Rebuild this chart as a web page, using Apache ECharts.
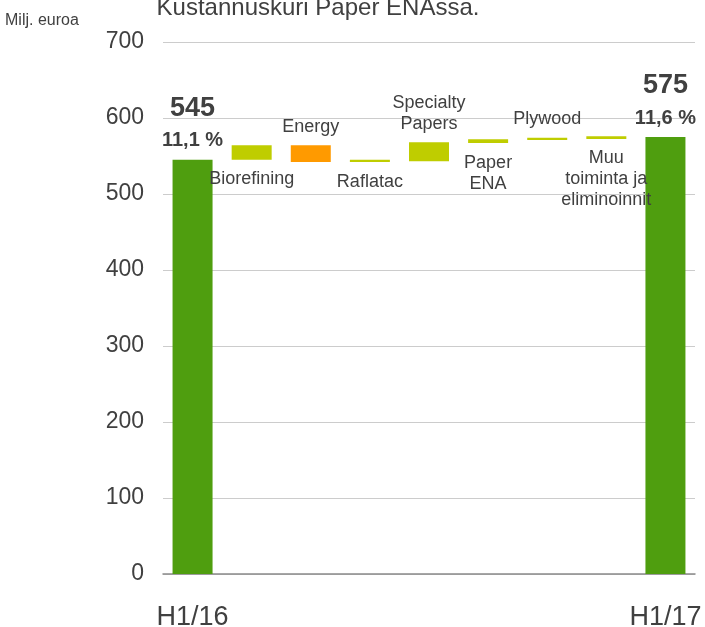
<!DOCTYPE html>
<html>
<head>
<meta charset="utf-8">
<script src="https://cdn.jsdelivr.net/npm/echarts@6/dist/echarts.min.js"></script>
<style>
  html, body { margin: 0; padding: 0; background: #fff; }
  #chart { width: 705px; height: 627px; }
</style>
</head>
<body>
<div id="chart"></div>
<script>
const categories = ['H1/16', 'Biorefining', 'Energy', 'Raflatac', 'Specialty\nPapers', 'Paper\nENA', 'Plywood', 'Muu\ntoiminta ja\neliminoinnit', 'H1/17'];
// where each bar starts and ends (milj. euroa)
const startValues = [0, 545, 564, 542, 543, 567, 571, 572.5, 0];
const endValues = [545, 564, 542, 545, 568, 572, 574, 576, 575];
const kinds = ['total', 'up', 'down', 'up', 'up', 'up', 'up', 'up', 'total'];
const labelSides = ['top', 'bottom', 'top', 'bottom', 'top', 'bottom', 'top', 'bottom', 'top'];
const totalLabels = ['545', '', '', '', '', '', '', '', '575'];
const shareLabels = ['11,1 %', '', '', '', '', '', '', '', '11,6 %'];
const yTicks = [0, 100, 200, 300, 400, 500, 600, 700];

const colors = { total: '#4f9e0f', up: '#bfcd00', down: '#ff9a00' };
const textColor = '#404040';
const font = 'Liberation Sans, Arial, sans-serif';

const baseData = startValues.map((s, i) => Math.min(s, endValues[i]));
const barData = startValues.map((s, i) => ({
  value: Math.abs(endValues[i] - s),
  itemStyle: { color: colors[kinds[i]] },
  label: kinds[i] === 'total'
    ? {
        position: 'top',
        distance: 3,
        formatter: '{a|' + totalLabels[i] + '}\n{b|' + shareLabels[i] + '}',
        rich: {
          a: { fontSize: 27, fontWeight: 'bold', lineHeight: 32, color: textColor, fontFamily: font },
          b: { fontSize: 20, fontWeight: 'bold', lineHeight: 32, color: textColor, fontFamily: font }
        }
      }
    : {
        position: labelSides[i],
        distance: labelSides[i] === 'top' ? 8 : 9,
        formatter: categories[i],
        fontSize: 18,
        lineHeight: 21,
        color: textColor,
        fontFamily: font
      }
}));

const chart = echarts.init(document.getElementById('chart'));

chart.setOption({
  animation: false,
  textStyle: { fontFamily: font },
  title: [
    {
      text: 'Kustannuskuri Paper ENAssa.',
      left: 313, top: -9, textAlign: 'center',
      textStyle: { fontSize: 24, fontWeight: 'normal', color: textColor, lineHeight: 24, fontFamily: font }
    },
    {
      text: 'Milj. euroa',
      left: 0, top: 8,
      textStyle: { fontSize: 16, fontWeight: 'normal', color: textColor, fontFamily: font }
    }
  ],
  grid: { left: 163, right: 10, top: 42, bottom: 53, outerBoundsMode: 'none' },
  xAxis: {
    type: 'category',
    data: categories,
    axisLine: { lineStyle: { color: '#8a8a8a', width: 1.5 } },
    axisTick: { show: false },
    axisLabel: {
      interval: 0,
      margin: 30,
      fontSize: 27,
      color: textColor,
      formatter: (v, i) => (i === 0 || i === categories.length - 1) ? v : ''
    }
  },
  yAxis: {
    type: 'value',
    min: yTicks[0],
    max: yTicks[yTicks.length - 1],
    interval: 100,
    axisLine: { show: false },
    axisTick: { show: false },
    axisLabel: { fontSize: 23, color: textColor, margin: 19 },
    splitLine: { lineStyle: { color: '#cccccc', width: 1 } }
  },
  series: [
    {
      type: 'bar',
      stack: 'w',
      data: baseData,
      barWidth: 40,
      itemStyle: { color: 'transparent' },
      silent: true
    },
    {
      type: 'bar',
      stack: 'w',
      data: barData,
      barWidth: 40,
      label: { show: true }
    }
  ]
});
</script>
</body>
</html>
